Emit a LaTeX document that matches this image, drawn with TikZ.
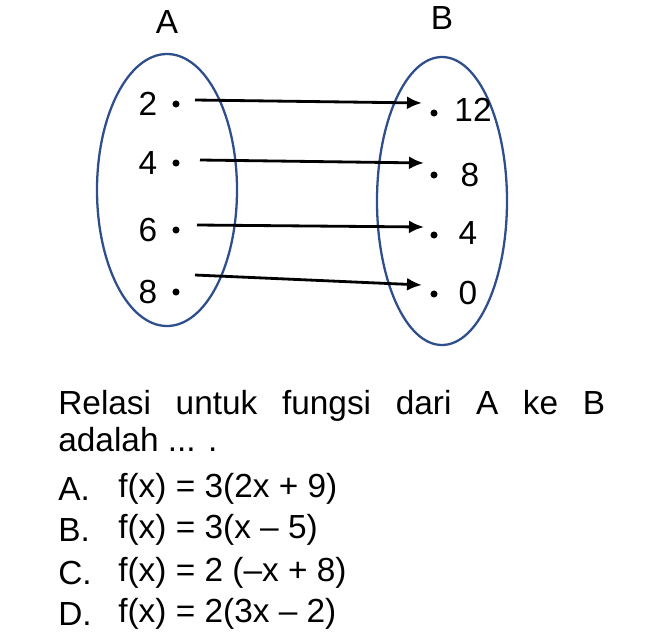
\documentclass[tikz,border=0pt]{standalone}
\usepackage{fontspec}
\setmainfont{Liberation Sans}
\usetikzlibrary{arrows.meta}
\definecolor{setblue}{HTML}{2F4E8C}
\tikzset{%
	>={Latex[width=2.6mm,length=3mm]},
	% styles for the two sets
	setoval/.style = {ellipse, draw=setblue, line width=1.3pt},
	elem/.style = {font=\fontsize{19}{22}\selectfont, inner sep=0pt},
	pt/.style = {circle, fill=black, inner sep=0pt, minimum size=4pt},
	maparrow/.style = {->, line width=1.6pt},
}
\begin{document}
\begin{tikzpicture}[x=0.02cm, y=-0.02cm]
  \useasboundingbox (0,0) rectangle (646,636);
  % the two sets
  \draw[setblue, line width=1.3pt] (167,190) ellipse [x radius=70, y radius=136];
  \draw[setblue, line width=1.3pt] (442,201) ellipse [x radius=65, y radius=144];
  \node (labA) [elem] at (167,22) {A};
  \node (labB) [elem] at (442,18) {B};
  % elements of A
  \foreach \n/\y in {2/104, 4/163, 6/230, 8/292}{
    \node (a\n) [elem] at (148,\y) {\n};
    \node (da\n) [pt] at (176,\y) {};
  }
  % elements of B
  \foreach \n/\x/\y in {12/473/110, 8/470/175, 4/468/233, 0/468/293}{
    \node (b\n) [elem] at (\x,\y) {\n};
  }
  \node (db12) [pt] at (434,113) {};
  \node (db8)  [pt] at (434,175) {};
  \node (db4)  [pt] at (434,235) {};
  \node (db0)  [pt] at (434,294) {};
  % mapping arrows
  \coordinate (s1) at (195,100); \coordinate (t1) at (422,103);
  \coordinate (s2) at (200,160); \coordinate (t2) at (424,163);
  \coordinate (s3) at (197,225); \coordinate (t3) at (424,227);
  \coordinate (s4) at (195,275); \coordinate (t4) at (422,285);
  \foreach \i in {1,...,4}{
    \draw[maparrow] (s\i) -- (t\i);
  }
  % question text
  \node (q1) [elem, anchor=west] at (58,406)
    {\makebox[10.94cm][s]{Relasi untuk fungsi dari A ke B}};
  \node (q2) [elem, anchor=west] at (58,440) {adalah ... .};
  \foreach \l/\t/\y in {A/{f(x) = 3(2x + 9)}/489, B/{f(x) = 3(x – 5)}/530,
                        C/{f(x) = 2 (–x + 8)}/573, D/{f(x) = 2(3x – 2)}/614}{
    \node (opt\l) [elem, anchor=west] at (58,\y) {\l.};
    \node (ans\l) [elem, anchor=west] at (118,\y) {\t};
  }
\end{tikzpicture}
\end{document}
